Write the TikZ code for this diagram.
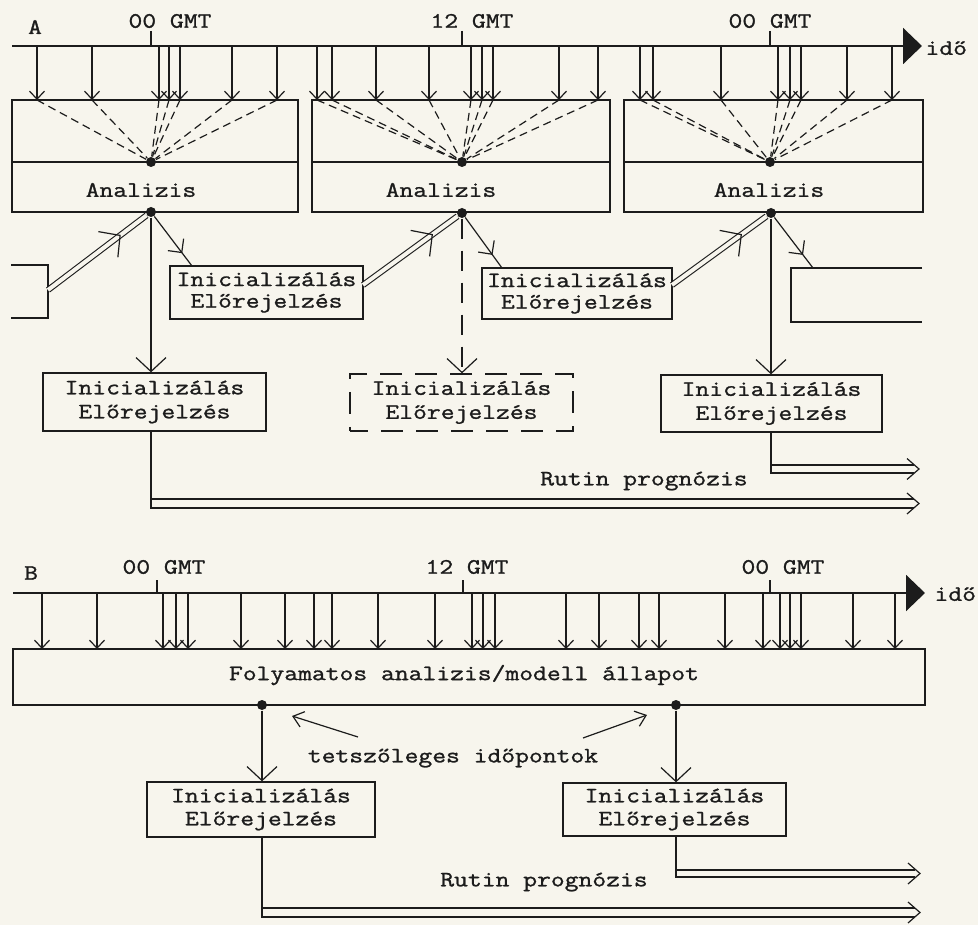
\documentclass[tikz,border=0pt]{standalone}
\usepackage{fontspec}
\newfontfamily\tw{Latin Modern Mono}[FakeStretch=1.22,FakeBold=1.2]
\usetikzlibrary{arrows.meta,calc}
\definecolor{paper}{RGB}{247,245,237}
\definecolor{ink}{RGB}{28,28,28}
% chevron on a line from #1 to #2 at fraction #3, arm length #4, half-angle #5
\newcommand\chevmark[5]{%
  \coordinate (chevtip) at ($(#1)!#3!(#2)$);
  \draw[line width=1.2pt] ($(chevtip)!#4!#5:(#1)$) -- (chevtip) -- ($(chevtip)!#4!-#5:(#1)$);}
\begin{document}
\begin{tikzpicture}[x=1pt,y=-1pt,color=ink,line width=1.1pt,
  txt/.style={font=\tw\fontsize{22}{25}\selectfont,inner sep=0pt,text=ink},
  bx/.style={draw=ink,line width=1.3pt,inner sep=0pt,align=center,text=ink,font=\tw\fontsize{22}{24}\selectfont},
  sbx/.style={bx,font=\tw\fontsize{22}{21.5}\selectfont},
  obs/.style={-{Straight Barb[length=8pt,width=15pt]},line width=1.2pt},
  dsh/.style={dash pattern=on 8pt off 5pt,line width=1.2pt},
  dot/.style={circle,fill=ink,inner sep=0pt,minimum size=10pt},
  bigarr/.style={-{Straight Barb[length=14pt,width=30pt]},line width=1.2pt},
  dbl/.style={draw=ink,double=paper,double distance=4pt,line width=1.1pt},
  axisline/.style={line width=2.2pt,-{Triangle[length=19pt,width=36pt]}},
  ann/.style={-{Straight Barb[length=10pt,width=16pt]},line width=1.2pt}
]
\fill[paper] (0,0) rectangle (978,925);
\useasboundingbox (0,0) rectangle (978,925);

% ================= Panel A =================
\node[txt] (lblA) at (35,27) {A};
\coordinate (axA0) at (12,46);
\coordinate (axA1) at (922,46);
\draw[axisline] (axA0) -- (axA1);
\node[txt,anchor=west] (idoA) at (925,48) {idő};
\coordinate (tA1) at (151,31); \draw[line width=1.2pt] (tA1) -- (tA1 |- axA0);
\coordinate (tA2) at (462,31); \draw[line width=1.2pt] (tA2) -- (tA2 |- axA0);
\coordinate (tA3) at (770,31); \draw[line width=1.2pt] (tA3) -- (tA3 |- axA0);
\node[txt] (gA1) at (170,21) {00 GMT};
\node[txt] (gA2) at (472,21) {12 GMT};
\node[txt] (gA3) at (770,21) {00 GMT};

% analysis boxes
\node[bx,minimum width=286pt,minimum height=112pt] (A1) at (155,156) {};
\node[bx,minimum width=298pt,minimum height=112pt] (A2) at (461,156) {};
\node[bx,minimum width=299pt,minimum height=112pt] (A3) at (773.5,156) {};
\node[dot] (d1) at (151,162) {};
\node[dot] (d2) at (462,162) {};
\node[dot] (d3) at (770,162) {};
\draw[line width=1.3pt] (A1.west |- d1) -- (A1.east |- d1);
\draw[line width=1.3pt] (A2.west |- d2) -- (A2.east |- d2);
\draw[line width=1.3pt] (A3.west |- d3) -- (A3.east |- d3);
\node[txt] (an1) at (141,190) {Analizis};
\node[txt] (an2) at (441,190) {Analizis};
\node[txt] (an3) at (769,190) {Analizis};

\foreach \x [count=\i] in {37,92,159,169,180,232,277} {
  \coordinate (oAas\i) at (\x,46); \coordinate (oAae\i) at (\x,100);
  \draw[obs] (oAas\i) -- (oAae\i);
  \draw[dsh] (oAae\i) -- (d1);
}
\foreach \x [count=\i] in {317,332,376,429,471,482,493,559,598} {
  \coordinate (oAbs\i) at (\x,46); \coordinate (oAbe\i) at (\x,100);
  \draw[obs] (oAbs\i) -- (oAbe\i);
  \draw[dsh] (oAbe\i) -- (d2);
}
\foreach \x [count=\i] in {640,653,721,778,790,801,847,892} {
  \coordinate (oAcs\i) at (\x,46); \coordinate (oAce\i) at (\x,100);
  \draw[obs] (oAcs\i) -- (oAce\i);
  \draw[dsh] (oAce\i) -- (d3);
}

% bottom dots
\node[dot] (b1) at (151,212) {};
\node[dot] (b2) at (462,213) {};
\node[dot] (b3) at (771,213) {};

% small forecast boxes and partial boxes
\node[sbx,minimum width=193pt,minimum height=53pt] (sA1) at (266.5,292.5) {Inicializálás\\Előrejelzés};
\node[sbx,minimum width=190pt,minimum height=51pt] (sA2) at (577,293.5) {Inicializálás\\Előrejelzés};
\coordinate (pL1) at (11,265); \coordinate (pL2) at (48,265); \coordinate (pL3) at (48,318); \coordinate (pL4) at (11,318);
\draw[line width=1.3pt] (pL1) -- (pL2) -- (pL3) -- (pL4);
\coordinate (pL) at (48,290);
\coordinate (pR1) at (922,268); \coordinate (pR2) at (791,268); \coordinate (pR3) at (791,322); \coordinate (pR4) at (922,322);
\draw[line width=1.3pt] (pR1) -- (pR2) -- (pR3) -- (pR4);
\coordinate (pRin) at (813,268);

% double lines (forecast -> analysis) with chevrons
\draw[dbl] (pL) -- (b1);
\chevmark{pL}{b1}{0.7}{22pt}{47}
\coordinate (sA1o) at (363,285);
\draw[dbl] (sA1o) -- (b2);
\chevmark{sA1o}{b2}{0.7}{22pt}{47}
\coordinate (sA2o) at (672,285);
\draw[dbl] (sA2o) -- (b3);
\chevmark{sA2o}{b3}{0.7}{22pt}{47}

% single lines analysis -> short forecast
\coordinate (sA1in) at (192,266);
\draw[line width=1.2pt] (b1) -- (sA1in);
\chevmark{b1}{sA1in}{0.75}{14pt}{45}
\coordinate (sA2in) at (502,268);
\draw[line width=1.2pt] (b2) -- (sA2in);
\chevmark{b2}{sA2in}{0.75}{14pt}{45}
\draw[line width=1.2pt] (b3) -- (pRin);
\chevmark{b3}{pRin}{0.75}{14pt}{45}

% lower forecast boxes
\node[bx,minimum width=223pt,minimum height=58pt] (lA1) at (154.5,402) {Inicializálás\\Előrejelzés};
\node[bx,minimum width=223pt,minimum height=57pt,dash pattern=on 22pt off 13pt,dash phase=4pt] (lA2) at (461.5,402.5) {Inicializálás\\Előrejelzés};
\node[bx,minimum width=221pt,minimum height=57pt] (lA3) at (771.5,403.5) {Inicializálás\\Előrejelzés};
\draw[bigarr] (b1) -- (b1 |- lA1.north);
\draw[bigarr,dash pattern=on 20pt off 12pt] (b2) -- (b2 |- lA2.north);
\draw[bigarr] (b3) -- (b3 |- lA3.north);

% routine forecast arrows A
\coordinate (rA1a) at (151,508); \coordinate (rA1b) at (914,508);
\coordinate (rA1c) at (151,499); \coordinate (rA1d) at (914,499);
\draw[line width=1.2pt] (b1 |- lA1.south) -- (rA1a) -- (rA1b);
\draw[line width=1.2pt] (rA1c) -- (rA1d);
\coordinate (rA1t) at (919,503.5);
\draw[line width=1.2pt] (907,493) -- (rA1t) -- (907,514);
\coordinate (rA3a) at (771,473); \coordinate (rA3b) at (914,473);
\coordinate (rA3c) at (771,465); \coordinate (rA3d) at (914,465);
\draw[line width=1.2pt] (b3 |- lA3.south) -- (rA3a) -- (rA3b);
\draw[line width=1.2pt] (rA3c) -- (rA3d);
\coordinate (rA3t) at (919,469);
\draw[line width=1.2pt] (907,458.5) -- (rA3t) -- (907,479.5);
\node[txt] (rutA) at (644,481) {Rutin prognózis};

% ================= Panel B =================
\node[txt] (lblB) at (31,573) {B};
\coordinate (axB0) at (13,593);
\coordinate (axB1) at (925,593);
\draw[axisline] (axB0) -- (axB1);
\node[txt,anchor=west] (idoB) at (934,594) {idő};
\coordinate (tB1) at (157,580); \draw[line width=1.2pt] (tB1) -- (tB1 |- axB0);
\coordinate (tB2) at (463,580); \draw[line width=1.2pt] (tB2) -- (tB2 |- axB0);
\coordinate (tB3) at (770,580); \draw[line width=1.2pt] (tB3) -- (tB3 |- axB0);
\node[txt] (gB1) at (164,567) {00 GMT};
\node[txt] (gB2) at (467,567) {12 GMT};
\node[txt] (gB3) at (783,567) {00 GMT};

\node[bx,minimum width=912pt,minimum height=56pt] (BB) at (469,677) {};
\node[txt] (BBt) at (464,675) {Folyamatos analizis/modell állapot};
\foreach \x [count=\i] in {42,97,163,176,188,241,285,314,332,378,435,472,483,495,566,599,639,659,725,763,780,790,801,853,895} {
  \coordinate (oBs\i) at (\x,593); \coordinate (oBe\i) at (\x,649);
  \draw[obs] (oBs\i) -- (oBe\i);
}
\node[dot] (e1) at (262,705) {};
\node[dot] (e2) at (676,705) {};

\node[txt] (tt) at (453,758) {tetszőleges időpontok};
\coordinate (ta1s) at (358,737); \coordinate (ta1e) at (292,716);
\draw[ann] (ta1s) -- (ta1e);
\coordinate (ta2s) at (583,738); \coordinate (ta2e) at (647,715);
\draw[ann] (ta2s) -- (ta2e);

\node[bx,minimum width=228pt,minimum height=55pt,font=\tw\fontsize{22}{23}\selectfont] (B1) at (261,809.5) {Inicializálás\\Előrejelzés};
\node[bx,minimum width=223pt,minimum height=53pt,font=\tw\fontsize{22}{23}\selectfont] (B2) at (674.5,809.5) {Inicializálás\\Előrejelzés};
\draw[bigarr] (e1) -- (e1 |- B1.north);
\draw[bigarr] (e2) -- (e2 |- B2.north);

\coordinate (rB1a) at (262,917); \coordinate (rB1b) at (915,917);
\coordinate (rB1c) at (262,908); \coordinate (rB1d) at (915,908);
\draw[line width=1.2pt] (e1 |- B1.south) -- (rB1a) -- (rB1b);
\draw[line width=1.2pt] (rB1c) -- (rB1d);
\coordinate (rB1t) at (920,912.5);
\draw[line width=1.2pt] (908,902) -- (rB1t) -- (908,923);
\coordinate (rB2a) at (676,877); \coordinate (rB2b) at (915,877);
\coordinate (rB2c) at (676,870); \coordinate (rB2d) at (915,870);
\draw[line width=1.2pt] (e2 |- B2.south) -- (rB2a) -- (rB2b);
\draw[line width=1.2pt] (rB2c) -- (rB2d);
\coordinate (rB2t) at (920,873.5);
\draw[line width=1.2pt] (908,863) -- (rB2t) -- (908,884);
\node[txt] (rutB) at (544,882) {Rutin prognózis};
\end{tikzpicture}
\end{document}
